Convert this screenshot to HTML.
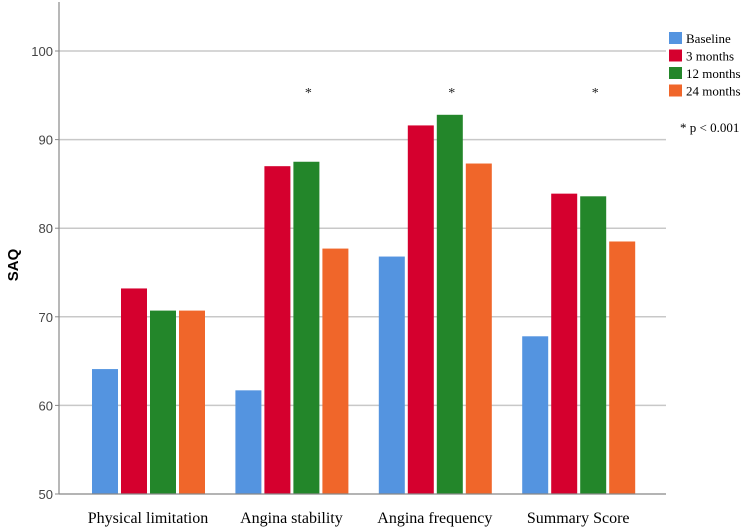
<!DOCTYPE html>
<html><head><meta charset="utf-8"><style>
body{margin:0;background:#fff;}
svg{display:block;}
</style></head><body>
<svg id="chart" width="749" height="532" xmlns="http://www.w3.org/2000/svg">
<g id="grid"></g>
<g id="bars"></g>
<g id="axes"></g>
<text x="18" y="265" transform="rotate(-90 18 265)" text-anchor="middle" font-family="Liberation Sans, sans-serif" font-weight="bold" font-size="15" fill="#000">SAQ</text>
<g id="legend"></g>
<text x="680" y="132" font-family="Liberation Serif, serif" font-size="13" fill="#000">* p &lt; 0.001</text>
</svg>
<script>
const categories = ["Physical limitation","Angina stability","Angina frequency","Summary Score"];
const seriesNames = ["Baseline","3 months","12 months","24 months"];
const baseline = [64.1, 61.7, 76.8, 67.8];
const m3 = [73.2, 87.0, 91.6, 83.9];
const m12 = [70.7, 87.5, 92.8, 83.6];
const m24 = [70.7, 77.7, 87.3, 78.5];
const yTicks = [50,60,70,80,90,100];
const significant = [false,true,true,true];
const colors = ["#5494e0","#d5002e","#23862a","#f0662a"];
const series=[baseline,m3,m12,m24];
const NS="http://www.w3.org/2000/svg";
const x0=59,x1=666,yTop=2,yBot=494;
function y(v){return 494-(v-50)*8.86;}
function xc(i){return 148+i*143.4;}
function mk(t,a,p){const e=document.createElementNS(NS,t);for(const k in a)e.setAttribute(k,a[k]);p.appendChild(e);return e;}
const grid=document.getElementById('grid'),bars=document.getElementById('bars'),axes=document.getElementById('axes'),legend=document.getElementById('legend');
yTicks.forEach(t=>{
  if(t>50){const l=mk('line',{x1:x0,x2:x1,y1:y(t),y2:y(t),stroke:'#c8c8c8','stroke-width':1.5},grid);
  
  }
  const tk=mk('line',{x1:x0-4,x2:x0,y1:y(t),y2:y(t),stroke:'#888'},axes);
  
  
  const tx=mk('text',{x:53,y:y(t)+5,'text-anchor':'end','font-family':'Liberation Sans, sans-serif','font-size':13,fill:'#444'},axes);
  tx.textContent=t;
  
  
});
categories.forEach((c,i)=>{
  series.forEach((s,j)=>{
    const bx=xc(i)-56+j*29;
    const r=mk('rect',{x:bx,y:y(s[i]),width:26,height:yBot-y(s[i]),fill:colors[j]},bars);
    
    
  });
  const t=mk('text',{x:xc(i),y:523,'text-anchor':'middle','font-family':'Liberation Serif, serif','font-size':16,fill:'#000'},axes);
  t.textContent=c;
  
  
  if(significant[i]){
    const a=mk('text',{x:xc(i)+17,y:97,'text-anchor':'middle','font-family':'Liberation Serif, serif','font-size':14,fill:'#222'},axes);
    a.textContent='*';
    
    
  }
});
const ya=mk('line',{x1:x0,x2:x0,y1:yTop,y2:yBot,stroke:'#888','stroke-width':1.2},axes);


const xa=mk('line',{x1:x0,x2:x1,y1:yBot,y2:yBot,stroke:'#888','stroke-width':1.2},axes);


seriesNames.forEach((n,j)=>{
  const r=mk('rect',{x:669,y:32+j*17.5,width:13,height:12,fill:colors[j]},legend);
  
  
  const t=mk('text',{x:686,y:43+j*17.5,'font-family':'Liberation Serif, serif','font-size':13,fill:'#000'},legend);
  t.textContent=n;
  
  
});
</script>
</body></html>
